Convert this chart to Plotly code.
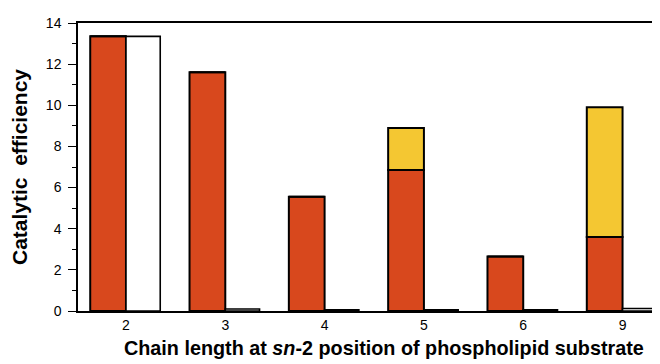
import plotly.graph_objects as go

categories = ["2", "3", "4", "5", "6", "9"]
red_values = [13.35, 11.6, 5.55, 6.85, 2.65, 3.6]
yellow_values = [0, 0, 0, 2.05, 0, 6.3]
white_values = [13.35, 0.1, 0.06, 0.06, 0.06, 0.12]

xs = list(range(len(categories)))
RED = "#D8481D"
YEL = "#F4C732"

fig = go.Figure()
fig.add_trace(go.Bar(x=xs, y=red_values, offset=-0.36, width=0.36,
                     marker=dict(color=RED, line=dict(color="black", width=2))))
fig.add_trace(go.Bar(x=xs, y=yellow_values, base=red_values, offset=-0.36, width=0.36,
                     marker=dict(color=YEL, line=dict(color="black", width=2))))
fig.add_trace(go.Bar(x=xs, y=white_values, offset=0.0, width=0.345,
                     marker=dict(color="white", line=dict(color="black", width=1.6))))

font_family = "Liberation Sans, Arial, sans-serif"
fig.update_layout(
    barmode="overlay",
    width=652, height=356,
    margin=dict(l=70, r=1, t=15, b=53),
    paper_bgcolor="white", plot_bgcolor="white",
    showlegend=False,
    font=dict(family=font_family, color="black", size=14),
    xaxis=dict(
        automargin=False,
        range=[-0.483, 5.367],
        tickvals=xs, ticktext=categories,
        showline=True, linecolor="black", linewidth=1.5, mirror=True,
        ticks="", showgrid=False, zeroline=False,
        tickfont=dict(size=14),
    ),
    yaxis=dict(
        automargin=False,
        range=[0, 14],
        tickvals=[0, 2, 4, 6, 8, 10, 12, 14],
        showline=True, linecolor="black", linewidth=1.5,
        ticks="outside", ticklen=8, tickwidth=1.2, tickcolor="black",
        ticklabelstandoff=4,
        minor=dict(tickvals=[1, 3, 5, 7, 9, 11, 13], ticks="outside", ticklen=4,
                   tickcolor="black", tickwidth=1),
        showgrid=False, zeroline=False,
        tickfont=dict(size=14),
        title=dict(text="<b>Catalytic  efficiency</b>", font=dict(size=21), standoff=14),
    ),
)
fig.add_annotation(
    text="<b>Chain length at <i>sn</i>-2 position of phospholipid substrate</b>",
    xref="paper", yref="paper", x=0.527, y=-0.13,
    xanchor="center", yanchor="middle", showarrow=False,
    font=dict(size=19.8, family=font_family, color="black"),
)
fig.add_shape(type="line", xref="paper", yref="paper", x0=1, x1=1, y0=0, y1=1,
              line=dict(color="#dddddd", width=1))
fig.write_html("out.html")
